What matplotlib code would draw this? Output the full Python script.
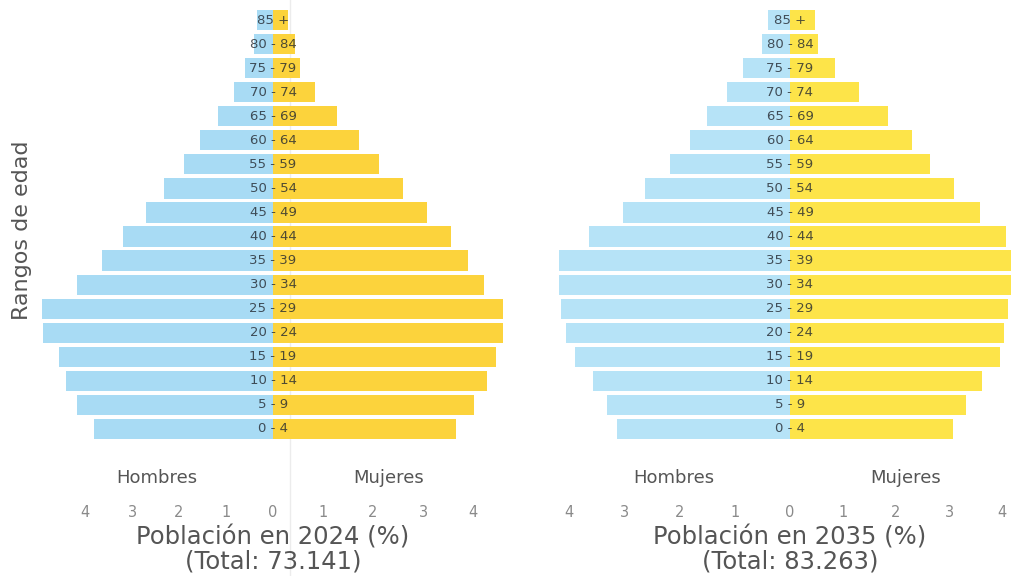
import numpy as np
import matplotlib.pyplot as plt

# grupos de edad (de abajo hacia arriba)
grupos = ['0 - 4', '5 - 9', '10 - 14', '15 - 19', '20 - 24', '25 - 29', '30 - 34',
          '35 - 39', '40 - 44', '45 - 49', '50 - 54', '55 - 59', '60 - 64',
          '65 - 69', '70 - 74', '75 - 79', '80 - 84', '85 +']

# porcentajes 2024
hombres_2024 = [3.81, 4.17, 4.40, 4.55, 4.89, 4.91, 4.17, 3.64, 3.19, 2.70,
                2.32, 1.89, 1.55, 1.17, 0.83, 0.60, 0.40, 0.34]
mujeres_2024 = [3.66, 4.02, 4.28, 4.46, 4.60, 4.60, 4.22, 3.90, 3.56, 3.08,
                2.60, 2.12, 1.72, 1.28, 0.84, 0.54, 0.44, 0.30]

# porcentajes 2035
hombres_2035 = [3.13, 3.31, 3.56, 3.89, 4.05, 4.14, 4.18, 4.18, 3.63, 3.02,
                2.62, 2.17, 1.81, 1.50, 1.14, 0.85, 0.51, 0.40]
mujeres_2035 = [3.08, 3.32, 3.62, 3.96, 4.04, 4.11, 4.25, 4.25, 4.08, 3.58,
                3.09, 2.64, 2.30, 1.85, 1.30, 0.85, 0.53, 0.47]

anios = ['2024', '2035']
totales = ['73.141', '83.263']
ticks = [0, 1, 2, 3, 4]

W, H = 1011, 576
fig = plt.figure(figsize=(W / 100, H / 100), dpi=100)

y = np.arange(len(grupos))
y_top, y_bot = 8, 441  # pixeles


def eje(x0, x1, escala, lim_izq):
    ax = fig.add_axes([x0 / W, 1 - y_bot / H, (x1 - x0) / W, (y_bot - y_top) / H])
    ax.patch.set_visible(False)
    ancho = (x1 - x0) / escala
    if lim_izq:
        ax.set_xlim(ancho, 0)
    else:
        ax.set_xlim(0, ancho)
    ax.set_ylim(-0.5, len(grupos) - 0.5)
    for s in ax.spines.values():
        s.set_visible(False)
    ax.set_yticks([])
    ax.tick_params(axis='x', length=0, pad=46, labelsize=10.5, labelcolor='#8a8a8a')
    return ax


# linea tenue vertical (detras de las barras)
fig.add_artist(plt.Line2D([290 / W, 290 / W], [0, 1], color='#ececec', lw=1, zorder=-5))

config = [
    # centro, x izq, x der, escala hombres, escala mujeres, colores
    (273, 30, 520, 47.0, 50.0, '#a8dbf4', '#fcd33c', hombres_2024, mujeres_2024),
    (790, 545, 1011, 55.3, 53.0, '#b6e3f7', '#fde449', hombres_2035, mujeres_2035),
]

for i, (c, xa, xb, eh, em, azul, amarillo, hom, muj) in enumerate(config):
    ax_h = eje(xa, c, eh, True)
    ax_m = eje(c, xb, em, False)
    ax_h.barh(y, hom, height=0.84, color=azul)
    ax_m.barh(y, muj, height=0.84, color=amarillo)
    ax_h.set_xticks(ticks)
    ax_m.set_xticks(ticks[1:])
    for yi, g in zip(y, grupos):
        ax_m.text(0, yi, g, ha='center', va='center', fontsize=9.5,
                  color='#232830', alpha=0.8, clip_on=False)

    fig.text((c - 116) / W, 1 - 478 / H, 'Hombres', ha='center', va='center',
             fontsize=13, color='#555555')
    fig.text((c + 116) / W, 1 - 478 / H, 'Mujeres', ha='center', va='center',
             fontsize=13, color='#555555')
    fig.text(c / W, 1 - 537 / H, f'Población en {anios[i]} (%)', ha='center',
             va='center', fontsize=17.5, color='#555555')
    fig.text(c / W, 1 - 562 / H, f'(Total: {totales[i]})', ha='center',
             va='center', fontsize=17.5, color='#555555')

fig.text(22 / W, 1 - 230 / H, 'Rangos de edad', rotation=90, ha='center',
         va='center', fontsize=16, color='#555555')

fig.savefig('out.png', dpi=100)
